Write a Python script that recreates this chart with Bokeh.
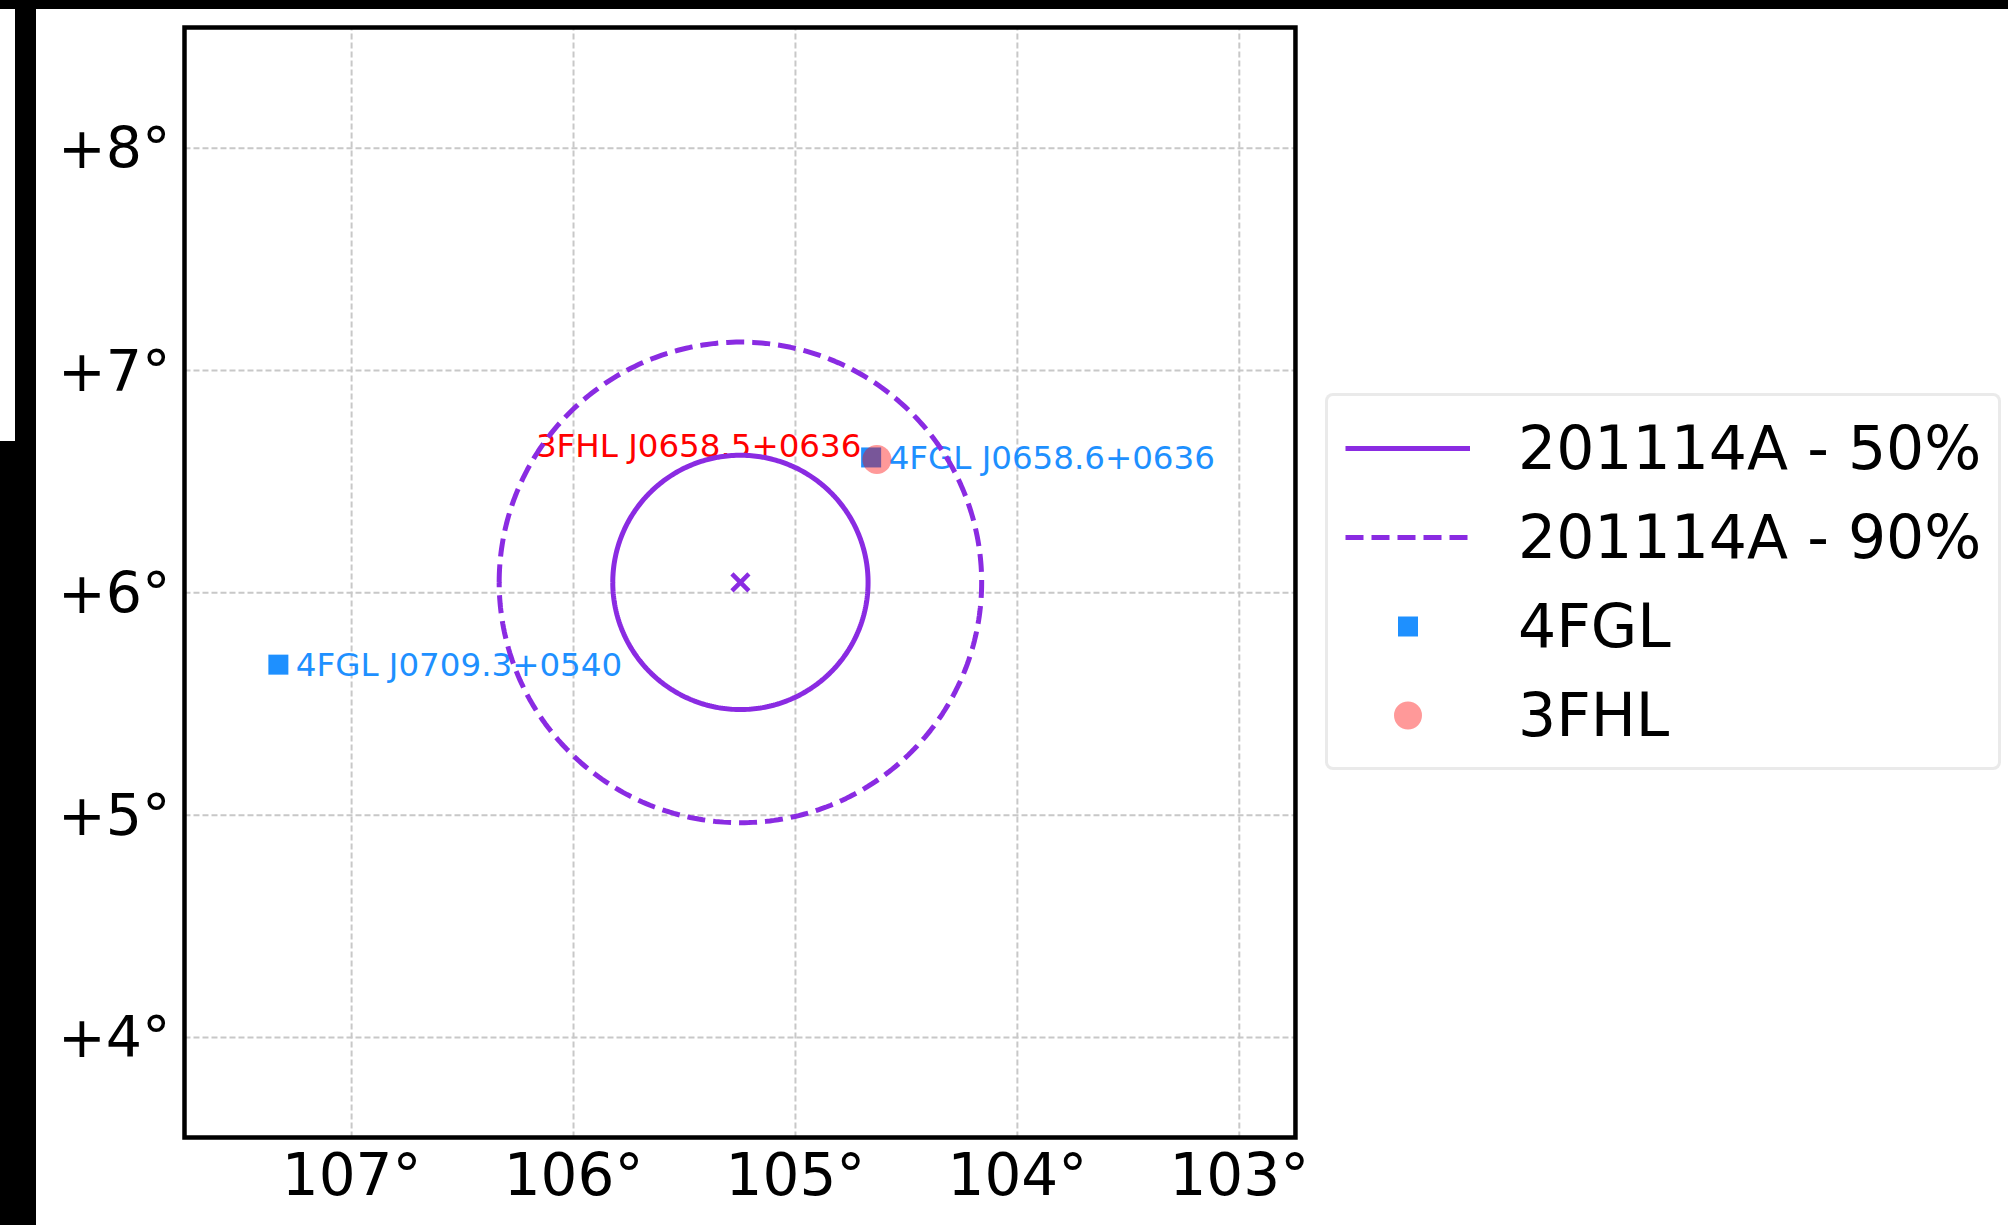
import numpy as np
from bokeh.plotting import figure
from bokeh.models import Range1d, FixedTicker, Legend, LegendItem
from bokeh.core.properties import value
from bokeh.embed import file_html
from bokeh.resources import INLINE

# ---------------- data ----------------
grb_name = "201114A"
grb_ra = 105.248
grb_dec = 6.047
r50 = 0.572
r90 = 1.081

fgl_names = ["4FGL J0658.6+0636", "4FGL J0709.3+0540"]
fgl_ra = [104.659, 107.330]
fgl_dec = [6.609, 5.677]

fhl_names = ["3FHL J0658.5+0636"]
fhl_ra = [104.633]
fhl_dec = [6.600]

ra_ticks = [107, 106, 105, 104, 103]
ra_labels = ["107°", "106°", "105°", "104°", "103°"]
dec_ticks = [4, 5, 6, 7, 8]
dec_labels = ["+4°", "+5°", "+6°", "+7°", "+8°"]

# visible sky window (axes box) and the wider canvas window that also holds the legend
view_ra = (107.753, 102.747)
view_dec = (3.550, 8.543)
canvas_ra = (107.771, 99.534)
canvas_dec = (3.532, 8.561)

PURPLE = "#8a2be2"
BLUE = "#1e90ff"
FONT = "DejaVu Sans"
GRID = "#c8c8c8"

p = figure(width=2008, height=1225,
           x_range=Range1d(*canvas_ra), y_range=Range1d(*canvas_dec),
           output_backend="svg", toolbar_location=None,
           min_border_left=180, min_border_right=0,
           min_border_top=23, min_border_bottom=84)
p.background_fill_color = "white"
p.border_fill_color = None
p.outline_line_color = None
# black edge bars of the original image (page background behind the borders)
p.styles = {
    "background": (
        "linear-gradient(#000,#000) 0px 0px / 100% 9px no-repeat, "
        "linear-gradient(#000,#000) 15px 0px / 21px 441px no-repeat, "
        "linear-gradient(#000,#000) 0px 441px / 36px 784px no-repeat, "
        "#ffffff"
    )
}

for ax, ticks, labels, size in ((p.xaxis, ra_ticks, ra_labels, "58px"),
                                (p.yaxis, dec_ticks, dec_labels, "57px")):
    ax.ticker = FixedTicker(ticks=ticks)
    ax.major_label_overrides = {t: l for t, l in zip(ticks, labels)}
    ax.major_label_text_font = FONT
    ax.major_label_text_font_size = size
    ax.major_label_text_color = "black"
    ax.axis_line_color = None
    ax.major_tick_line_color = None
    ax.minor_tick_line_color = None
p.xaxis.major_label_standoff = -7
p.yaxis.major_label_standoff = 4
p.xgrid.visible = False
p.ygrid.visible = False

# grid lines limited to the axes box
n_ra, n_dec = len(ra_ticks), len(dec_ticks)
p.segment(x0=ra_ticks, y0=[view_dec[0]] * n_ra, x1=ra_ticks, y1=[view_dec[1]] * n_ra,
          line_color=GRID, line_width=2, line_dash="6 3")
p.segment(x0=[view_ra[0]] * n_dec, y0=dec_ticks, x1=[view_ra[1]] * n_dec, y1=dec_ticks,
          line_color=GRID, line_width=2, line_dash="6 3")

# labels
p.text(x=fgl_ra, y=fgl_dec, text=fgl_names, text_font=value(FONT),
       text_font_size="32.5px", text_color=BLUE, text_align="left",
       text_baseline="alphabetic", x_offset=17.5, y_offset=0.5)
p.text(x=fhl_ra, y=fhl_dec, text=fhl_names, text_font=value(FONT),
       text_font_size="32.5px", text_color="red", text_align="right",
       text_baseline="alphabetic", x_offset=-15.5, y_offset=-13)

# markers
r_fgl = p.scatter(fgl_ra, fgl_dec, marker="square", size=20,
                  fill_color=BLUE, line_color=None)
r_fhl = p.scatter(fhl_ra, fhl_dec, marker="circle", size=29,
                  fill_color="red", fill_alpha=0.4, line_color=None)

# localisation circles from centre and radius
t = np.linspace(0, 2 * np.pi, 361)
cosd = np.cos(np.radians(grb_dec))
r_c50 = p.line(grb_ra + r50 * np.cos(t) / cosd, grb_dec + r50 * np.sin(t),
               line_color=PURPLE, line_width=5)
r_c90 = p.line(grb_ra + r90 * np.cos(t) / cosd, grb_dec + r90 * np.sin(t),
               line_color=PURPLE, line_width=5, line_dash="18 8")
p.scatter([grb_ra], [grb_dec], marker="x", size=24, line_color=PURPLE,
          line_width=4.5)

# axes box outline
p.quad(left=[view_ra[0]], right=[view_ra[1]], bottom=[view_dec[0]], top=[view_dec[1]],
       fill_color=None, line_color="black", line_width=4.5, line_join="miter")

# legend-only proxies
leg_fgl = p.scatter([np.nan], [np.nan], marker="square", fill_color=BLUE,
                    line_color="white", line_width=8)
leg_fhl = p.scatter([np.nan], [np.nan], marker="circle", fill_color="red",
                    fill_alpha=0.4, line_color=None)

legend = Legend(items=[
    LegendItem(label=f"{grb_name} - 50%", renderers=[r_c50]),
    LegendItem(label=f"{grb_name} - 90%", renderers=[r_c90]),
    LegendItem(label="4FGL", renderers=[leg_fgl]),
    LegendItem(label="3FHL", renderers=[leg_fhl]),
], location=(1145, 371))
legend.label_text_font = FONT
legend.label_text_font_size = "60px"
legend.label_text_color = "black"
legend.glyph_width = 125
legend.glyph_height = 70
legend.label_height = 70
legend.label_standoff = 48
legend.spacing = 19
legend.padding = 17
legend.margin = 0
legend.border_line_color = "#d5d5d5"
legend.border_line_width = 3
legend.background_fill_color = "white"
legend.background_fill_alpha = 1
try:
    legend.border_radius = 8
except Exception:
    pass
p.add_layout(legend)

open("out.html", "w").write(file_html(p, INLINE))
